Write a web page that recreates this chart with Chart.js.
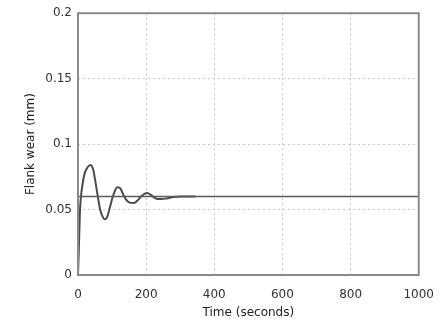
<!DOCTYPE html>
<html>
<head>
<meta charset="utf-8">
<script src="https://cdn.jsdelivr.net/npm/chart.js@4.4.0/dist/chart.umd.min.js"></script>
<style>
  body { margin: 0; background: #fff; }
  canvas { display: block; }
</style>
</head>
<body>
<canvas id="graficoDesgaste" width="447" height="323"></canvas>
<script>
// tempo (s) e desgaste de flanco (mm)
var tempos = [0, 3, 6, 10, 15, 20, 25, 30, 37, 45, 50, 55, 60, 65, 70, 79, 85, 90, 95, 100, 105, 115, 125, 130, 140, 150, 164, 175, 185, 195, 203, 215, 225, 235, 245, 260, 280, 300, 320, 345];
var desgaste = [0, 0.025, 0.05, 0.063, 0.072, 0.078, 0.081, 0.083, 0.084, 0.080, 0.073, 0.065, 0.057, 0.050, 0.046, 0.0425, 0.044, 0.048, 0.053, 0.058, 0.062, 0.067, 0.066, 0.063, 0.058, 0.0555, 0.055, 0.057, 0.060, 0.062, 0.0626, 0.061, 0.059, 0.058, 0.058, 0.0585, 0.0595, 0.060, 0.060, 0.060];
var referenciaX = [0, 1000];
var referenciaY = [0.06, 0.06];
var ticksX = [0, 200, 400, 600, 800, 1000];
var ticksY = [0, 0.05, 0.1, 0.15, 0.2];

function PegarPontos(xs, ys) {
    var pontos = [];
    for (var i = 0; i < xs.length; i++) {
        pontos.push({ x: xs[i], y: ys[i] });
    }
    return pontos;
}

var moldura = {
    id: 'moldura',
    afterDraw: function (chart) {
        var a = chart.chartArea;
        var ctx = chart.ctx;
        ctx.save();
        ctx.strokeStyle = '#8a8a8a';
        ctx.lineWidth = 2;
        ctx.strokeRect(a.left, a.top, a.right - a.left, a.bottom - a.top);
        ctx.restore();
    }
};

var fonte = { family: "'DejaVu Sans', sans-serif", size: 12 };

var ctx = document.getElementById('graficoDesgaste').getContext('2d');

var grafico = new Chart(ctx, {
    type: 'scatter',
    data: {
        datasets: [
            {
                label: "Referencia",
                data: PegarPontos(referenciaX, referenciaY),
                showLine: true,
                borderColor: '#5a5a5a',
                borderWidth: 1.6,
                pointRadius: 0
            },
            {
                label: "Desgaste",
                data: PegarPontos(tempos, desgaste),
                showLine: true,
                borderColor: '#4a4a4a',
                borderWidth: 2,
                pointRadius: 0,
                cubicInterpolationMode: 'monotone'
            }
        ]
    },
    options: {
        responsive: false,
        animation: false,
        layout: { padding: { top: 11, right: 27, left: 24, bottom: 3 } },
        plugins: {
            legend: { display: false },
            tooltip: { enabled: false }
        },
        scales: {
            x: {
                type: 'linear',
                min: 0,
                max: 1000,
                afterBuildTicks: function (axis) {
                    axis.ticks = ticksX.map(function (v) { return { value: v }; });
                },
                afterFit: function (axis) { axis.height = 45; },
                grid: {
                    color: '#c8c8c8',
                    lineWidth: 1,
                    drawTicks: false
                },
                border: { display: false, dash: [2, 3] },
                ticks: {
                    color: '#333',
                    font: fonte,
                    padding: 13,
                    maxRotation: 0,
                    callback: function (v) { return String(v); }
                },
                title: {
                    display: true,
                    text: 'Time (seconds)',
                    color: '#222',
                    font: fonte,
                    padding: { top: 0, bottom: 0 }
                }
            },
            y: {
                min: 0,
                max: 0.2,
                afterBuildTicks: function (axis) {
                    axis.ticks = ticksY.map(function (v) { return { value: v }; });
                },
                afterFit: function (axis) { axis.width = 54; },
                grid: {
                    color: '#c8c8c8',
                    lineWidth: 1,
                    drawTicks: false
                },
                border: { display: false, dash: [2, 3] },
                ticks: {
                    color: '#333',
                    font: fonte,
                    padding: 6,
                    callback: function (v) { return String(v); }
                },
                title: {
                    display: true,
                    text: 'Flank wear (mm)',
                    color: '#222',
                    font: fonte,
                    padding: { top: 0, bottom: 0 }
                }
            }
        }
    },
    plugins: [moldura]
});
</script>
</body>
</html>
